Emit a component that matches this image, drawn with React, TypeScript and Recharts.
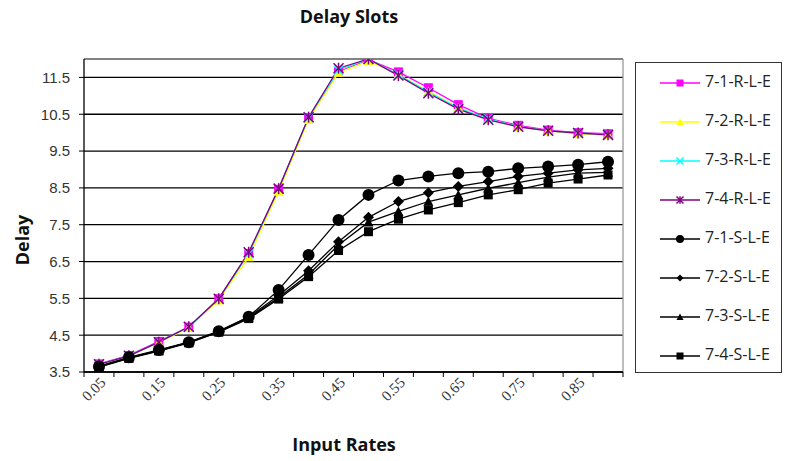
import React from 'react';
import { LineChart, Line, XAxis, YAxis, CartesianGrid, ReferenceLine } from 'recharts';

const inputRates = [0.05, 0.1, 0.15, 0.2, 0.25, 0.3, 0.35, 0.4, 0.45, 0.5, 0.55, 0.6, 0.65, 0.7, 0.75, 0.8, 0.85, 0.9];
const xTickLabels = ['0.05', '0.15', '0.25', '0.35', '0.45', '0.55', '0.65', '0.75', '0.85'];
const yTicks = [3.5, 4.5, 5.5, 6.5, 7.5, 8.5, 9.5, 10.5, 11.5];

const r71 = [3.72, 3.95, 4.33, 4.72, 5.49, 6.72, 8.46, 10.40, 11.65, 11.98, 11.65, 11.22, 10.76, 10.39, 10.20, 10.07, 10.00, 9.97];
const r72 = [3.70, 3.93, 4.30, 4.70, 5.45, 6.62, 8.40, 10.35, 11.63, 11.95, 11.58, 11.12, 10.68, 10.36, 10.16, 10.05, 9.96, 9.94];
const r73 = [3.71, 3.94, 4.31, 4.72, 5.48, 6.72, 8.47, 10.41, 11.70, 12.00, 11.57, 11.10, 10.67, 10.37, 10.17, 10.05, 9.99, 9.95];
const r74 = [3.71, 3.94, 4.31, 4.73, 5.49, 6.75, 8.48, 10.42, 11.75, 12.00, 11.55, 11.07, 10.64, 10.35, 10.16, 10.05, 9.99, 9.94];
const s71 = [3.65, 3.90, 4.10, 4.31, 4.61, 5.00, 5.73, 6.68, 7.63, 8.31, 8.70, 8.81, 8.90, 8.94, 9.03, 9.08, 9.13, 9.21];
const s72 = [3.65, 3.89, 4.09, 4.31, 4.60, 4.99, 5.58, 6.25, 7.04, 7.70, 8.13, 8.37, 8.54, 8.67, 8.81, 8.90, 8.99, 9.03];
const s73 = [3.64, 3.88, 4.08, 4.30, 4.59, 4.97, 5.52, 6.15, 6.95, 7.57, 7.86, 8.13, 8.31, 8.49, 8.64, 8.79, 8.90, 8.92];
const s74 = [3.63, 3.87, 4.07, 4.29, 4.58, 4.95, 5.48, 6.09, 6.80, 7.31, 7.65, 7.90, 8.10, 8.31, 8.45, 8.63, 8.74, 8.85];

const seriesDefs = [
  { key: '7-1-R-L-E', values: r71, color: '#FF00FF', shape: 'square' },
  { key: '7-2-R-L-E', values: r72, color: '#FFFF00', shape: 'triangle' },
  { key: '7-3-R-L-E', values: r73, color: '#00FFFF', shape: 'x' },
  { key: '7-4-R-L-E', values: r74, color: '#800080', shape: 'star' },
  { key: '7-1-S-L-E', values: s71, color: '#000000', shape: 'circle' },
  { key: '7-2-S-L-E', values: s72, color: '#000000', shape: 'diamond' },
  { key: '7-3-S-L-E', values: s73, color: '#000000', shape: 'triangle' },
  { key: '7-4-S-L-E', values: s74, color: '#000000', shape: 'square' },
];

const data = inputRates.map((x, i) => {
  const row: Record<string, number> = { x };
  seriesDefs.forEach((s) => { row[s.key] = s.values[i]; });
  return row;
});

// category boundaries (midpoints between categories, plus outer edges)
const step = inputRates[1] - inputRates[0];
const boundaries = [inputRates[0] - step / 2, ...inputRates.map((v) => v + step / 2)];
const xDomain = [boundaries[0], boundaries[boundaries.length - 1]];
const labelValues = xTickLabels.map(Number);
const allXTicks = [...boundaries, ...labelValues].sort((a, b) => a - b);

function Marker({ shape, cx, cy, color, size }: { shape: string; cx: number; cy: number; color: string; size: number }) {
  const h = size / 2;
  if (cx == null || cy == null || isNaN(cx) || isNaN(cy)) return null;
  switch (shape) {
    case 'square':
      return <rect x={cx - h} y={cy - h} width={size} height={size} fill={color} />;
    case 'triangle':
      return <polygon points={`${cx},${cy - h} ${cx + h},${cy + h * 0.85} ${cx - h},${cy + h * 0.85}`} fill={color} />;
    case 'x':
      return (
        <g stroke={color} strokeWidth={1.5}>
          <line x1={cx - h} y1={cy - h} x2={cx + h} y2={cy + h} />
          <line x1={cx - h} y1={cy + h} x2={cx + h} y2={cy - h} />
        </g>
      );
    case 'star':
      return (
        <g stroke={color} strokeWidth={1.5}>
          <line x1={cx - h} y1={cy - h} x2={cx + h} y2={cy + h} />
          <line x1={cx - h} y1={cy + h} x2={cx + h} y2={cy - h} />
          <line x1={cx} y1={cy - h * 1.1} x2={cx} y2={cy + h * 1.1} />
        </g>
      );
    case 'circle':
      return <circle cx={cx} cy={cy} r={h} fill={color} />;
    case 'diamond':
      return <polygon points={`${cx},${cy - h} ${cx + h},${cy} ${cx},${cy + h} ${cx - h},${cy}`} fill={color} />;
    default:
      return null;
  }
}

const dotSize: Record<string, number> = { square: 9, triangle: 10, x: 9, star: 10, circle: 12, diamond: 11 };

const XTick = (props: any) => {
  const { x, y, payload } = props;
  const label = xTickLabels.find((l) => Math.abs(Number(l) - payload.value) < 1e-6);
  if (!label) {
    return <line x1={x} y1={y} x2={x} y2={y + 5} stroke="#000" strokeWidth={1} />;
  }
  const px = x + 4;
  const py = y + 8;
  return (
    <text
      x={px}
      y={py}
      transform={`rotate(-45, ${px}, ${py})`}
      textAnchor="end"
      dominantBaseline="central"
      fontFamily="'Liberation Serif', serif"
      fontSize={15}
      fill="#333"
    >
      {label}
    </text>
  );
};

const titleStyle: React.CSSProperties = {
  position: 'absolute',
  textAlign: 'center',
  fontFamily: "'Open Sans', sans-serif",
  fontWeight: 700,
  fontSize: 18,
  color: '#111',
  whiteSpace: 'nowrap',
};

export default function App() {
  return (
    <div style={{ position: 'absolute', left: 0, top: 0, width: 788, height: 461, background: '#fff' }}>
      <LineChart width={788} height={461} data={data} margin={{ top: 59, right: 165, left: 0, bottom: 39 }}>
        <CartesianGrid vertical={false} stroke="#000" strokeWidth={1.3} yAxisId="y" xAxisId="main" />
        <XAxis
          xAxisId="main"
          dataKey="x"
          type="number"
          domain={xDomain}
          ticks={allXTicks}
          tick={<XTick />}
          tickSize={0}
          tickMargin={0}
          height={50}
          interval={0}
          axisLine={{ stroke: '#000', strokeWidth: 1.3 }}
          tickLine={false}
          allowDataOverflow
        />
        <YAxis
          yAxisId="y"
          type="number"
          domain={[3.5, 12]}
          ticks={yTicks}
          width={84}
          tickSize={5}
          tickMargin={9}
          interval={0}
          axisLine={{ stroke: '#000', strokeWidth: 1.3 }}
          tickLine={{ stroke: '#000' }}
          tick={{ fill: '#333', fontSize: 15, fontFamily: "'Liberation Sans', Arial, sans-serif" }}
          allowDataOverflow
        />
        <ReferenceLine yAxisId="y" xAxisId="main" y={12} stroke="#999" strokeWidth={1.3} />
        <ReferenceLine yAxisId="y" xAxisId="main" x={xDomain[1]} stroke="#999" strokeWidth={1.3} />
        {seriesDefs.map((s) => (
          <Line
            key={s.key}
            xAxisId="main"
            yAxisId="y"
            dataKey={s.key}
            name={s.key}
            type="linear"
            stroke={s.color}
            strokeWidth={1.3}
            isAnimationActive={false}
            activeDot={false}
            dot={(p: any) => (
              <Marker key={`${s.key}-${p.index}`} shape={s.shape} cx={p.cx} cy={p.cy} color={s.color} size={dotSize[s.shape]} />
            )}
          />
        ))}
      </LineChart>
      <div
        style={{
          position: 'absolute',
          left: 635,
          top: 62,
          width: 147,
          height: 311,
          border: '1px solid #333',
          boxSizing: 'border-box',
          background: '#fff',
        }}
      >
        <div style={{ marginTop: -2 }}>
          {seriesDefs.map((s) => (
            <div key={s.key} style={{ height: 39, display: 'flex', alignItems: 'center' }}>
              <svg width={68} height={20} style={{ flex: 'none', position: 'relative', top: 2 }}>
                <line x1={24} y1={10} x2={64} y2={10} stroke={s.color} strokeWidth={1.5} />
                <Marker shape={s.shape} cx={44} cy={10} color={s.color} size={s.shape === 'circle' ? 8 : 7} />
              </svg>
              <span style={{ fontFamily: "'Open Sans', sans-serif", fontSize: 16, color: '#222', marginLeft: 1 }}>{s.key}</span>
            </div>
          ))}
        </div>
      </div>
      <div style={{ ...titleStyle, left: 249, width: 200, top: 4 }}>Delay Slots</div>
      <div style={{ ...titleStyle, left: 244, width: 200, top: 432 }}>Input Rates</div>
      <div
        style={{
          ...titleStyle,
          left: 22,
          top: 240,
          transform: 'translate(-50%, -50%) rotate(-90deg)',
        }}
      >
        Delay
      </div>
    </div>
  );
}
